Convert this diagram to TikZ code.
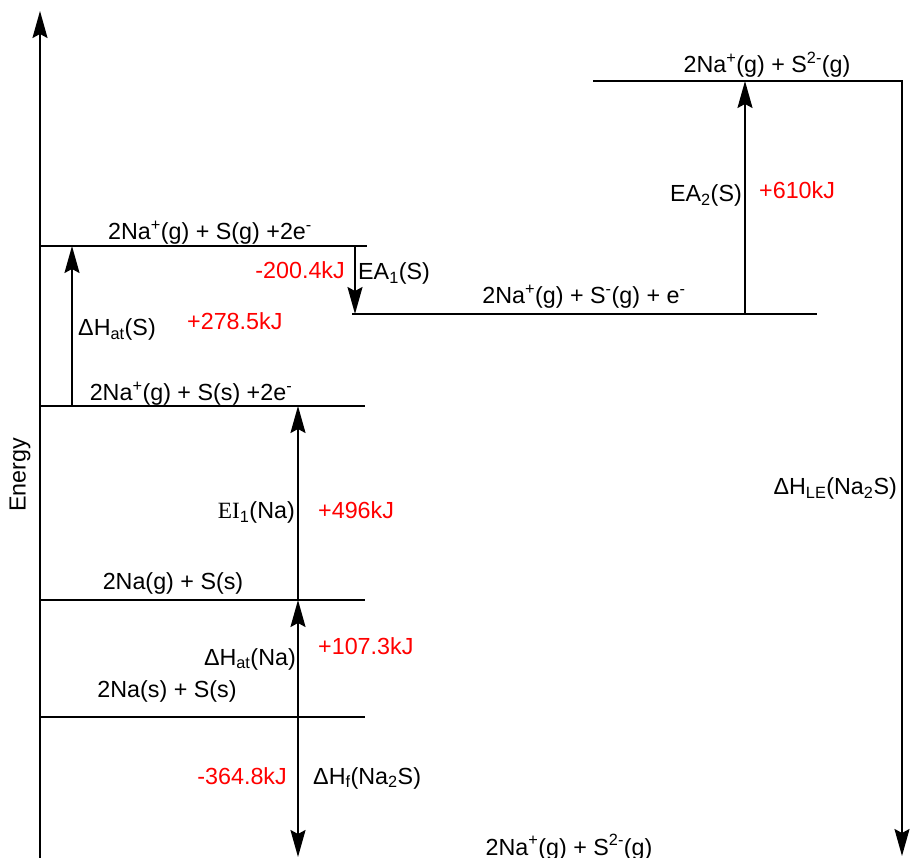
\documentclass[tikz,border=0pt]{standalone}
\usepackage{fontspec}
\setmainfont{Liberation Sans}
\newfontfamily\serifEI{Liberation Serif}
\usetikzlibrary{arrows.meta}
\begin{document}
\begin{tikzpicture}[x=1pt,y=-1pt,
  lvl/.style={line width=2pt},
  arr/.style={line width=2pt,-{Stealth[length=27pt,width=15pt,inset=4pt]}},
  lbl/.style={inner sep=0pt,font=\fontsize{23.3}{27}\selectfont},
  val/.style={lbl,text=red}]
\useasboundingbox (0,0) rectangle (911,858);
% energy axis
\coordinate (axB) at (40,862);
\coordinate (axT) at (40,11);
\draw[arr] (axB) -- (axT);
\node[lbl,rotate=90] (energy) at (20,475) {Energy};
% levels
\coordinate (L1a) at (40,246);  \coordinate (L1b) at (367,246);
\coordinate (L2a) at (40,406);  \coordinate (L2b) at (365,406);
\coordinate (L3a) at (40,600);  \coordinate (L3b) at (365,600);
\coordinate (L4a) at (40,717);  \coordinate (L4b) at (365,717);
\coordinate (L5a) at (352,314); \coordinate (L5b) at (817,314);
\coordinate (L6a) at (593,81);  \coordinate (L6b) at (903,81);
\foreach \l in {1,...,6} {\draw[lvl] (L\l a) -- (L\l b);}
% level labels
\node[lbl,anchor=base] (t1) at (210,240) {2Na\textsuperscript{+}(g) + S(g) +2e\textsuperscript{-}};
\node[lbl,anchor=base] (t2) at (191,401) {2Na\textsuperscript{+}(g) + S(s) +2e\textsuperscript{-}};
\node[lbl,anchor=base] (t3) at (173,590) {2Na(g) + S(s)};
\node[lbl,anchor=base] (t4) at (167,697) {2Na(s) + S(s)};
\node[lbl,anchor=base] (t5) at (584,304) {2Na\textsuperscript{+}(g) + S\textsuperscript{-}(g) + e\textsuperscript{-}};
\node[lbl,anchor=base] (t6) at (767,73) {2Na\textsuperscript{+}(g) + S\textsuperscript{2-}(g)};
\node[lbl,anchor=base] (t7) at (569,855) {2Na\textsuperscript{+}(g) + S\textsuperscript{2-}(g)};
% arrows
\coordinate (aS0) at (72,406);   \coordinate (aS1) at (72,246);
\coordinate (aE0) at (355,246);  \coordinate (aE1) at (355,314);
\coordinate (aI0) at (298,600);  \coordinate (aI1) at (298,406);
\coordinate (aN0) at (298,717);  \coordinate (aN1) at (298,600);
\coordinate (aF0) at (298,717);  \coordinate (aF1) at (298,857);
\coordinate (aE20) at (745,314); \coordinate (aE21) at (745,81);
\coordinate (aL0) at (902,81);   \coordinate (aL1) at (902,856);
\draw[arr] (aS0) -- (aS1);
\draw[arr] (aE0) -- (aE1);
\draw[arr] (aI0) -- (aI1);
\draw[arr] (aN0) -- (aN1);
\draw[arr] (aF0) -- (aF1);
\draw[arr] (aE20) -- (aE21);
\draw[arr] (aL0) -- (aL1);
% arrow labels
\node[lbl,anchor=base] (hS) at (117,336) {ΔH\textsubscript{at}(S)};
\node[val,anchor=base west] (vS) at (187,330) {+278.5kJ};
\node[val,anchor=base east] (vEA1) at (345,279) {-200.4kJ};
\node[lbl,anchor=base west] (hEA1) at (358,280) {EA\textsubscript{1}(S)};
\node[lbl,anchor=base east] (hEI) at (295,519) {{\serifEI EI}\textsubscript{1}(Na)};
\node[val,anchor=base west] (vEI) at (318,519) {+496kJ};
\node[lbl,anchor=base east] (hNa) at (296,665) {ΔH\textsubscript{at}(Na)};
\node[val,anchor=base west] (vNa) at (318,654) {+107.3kJ};
\node[val,anchor=base east] (vF) at (287,784) {-364.8kJ};
\node[lbl,anchor=base west] (hF) at (313,784) {ΔH\textsubscript{f}(Na\textsubscript{2}S)};
\node[lbl,anchor=base east] (hEA2) at (742,202) {EA\textsubscript{2}(S)};
\node[val,anchor=base west] (vEA2) at (759,199) {+610kJ};
\node[lbl,anchor=base east] (hLE) at (897,495) {ΔH\textsubscript{LE}(Na\textsubscript{2}S)};
\end{tikzpicture}
\end{document}
